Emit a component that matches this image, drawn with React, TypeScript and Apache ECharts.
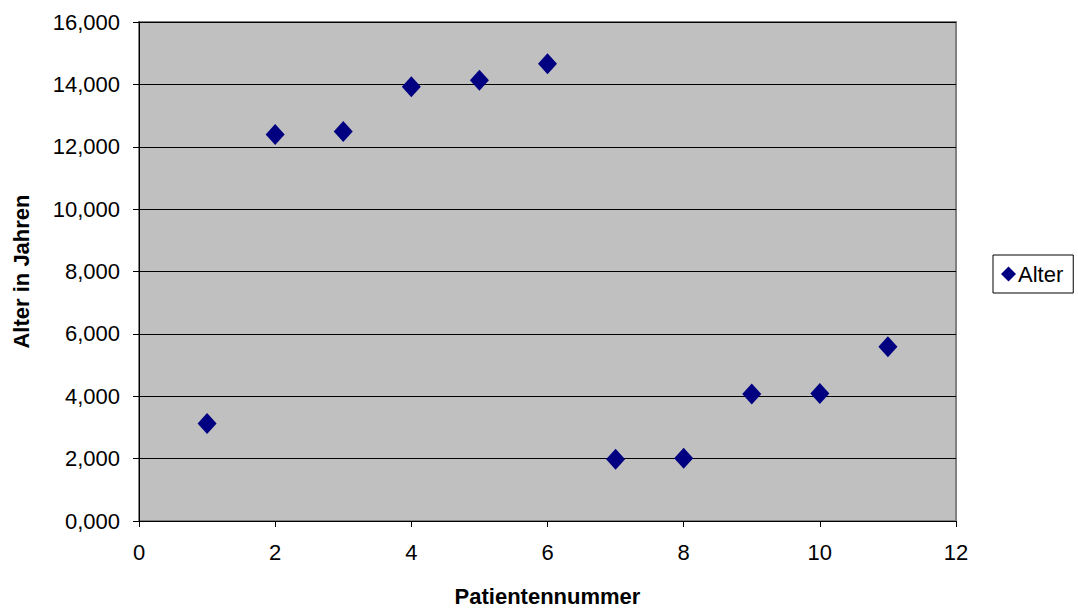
import React, { useEffect, useRef } from "react";
import * as echarts from "echarts";

const patientNumbers = [1, 2, 3, 4, 5, 6, 7, 8, 9, 10, 11];
const ages = [3.13, 12.39, 12.49, 13.92, 14.13, 14.66, 1.98, 2.01, 4.07, 4.09, 5.59];
const seriesName = "Alter";
const xAxisTitle = "Patientennummer";
const yAxisTitle = "Alter in Jahren";

const FONT = "Liberation Sans, Arial, sans-serif";

export default function App() {
  const ref = useRef<HTMLDivElement>(null);
  useEffect(() => {
    if (!ref.current) return;
    const chart = echarts.init(ref.current, null, { renderer: "svg" });
    chart.setOption({
      animation: false,
      backgroundColor: "#ffffff",
      textStyle: { fontFamily: FONT },
      grid: {
        left: 139,
        right: 122,
        top: 22,
        bottom: 88,
        show: true,
        backgroundColor: "#c0c0c0",
        borderColor: "#808080",
        borderWidth: 2,
      },
      legend: {
        left: 993,
        top: 255,
        backgroundColor: "#ffffff",
        borderColor: "#000000",
        borderWidth: 1,
        borderRadius: 0,
        padding: [8, 10, 8, 8],
        itemWidth: 15,
        itemHeight: 15,
        itemGap: 0,
        icon: "diamond",
        textStyle: { fontSize: 22, color: "#000", fontFamily: FONT, padding: [0, 0, 0, -3] },
        data: [seriesName],
      },
      xAxis: {
        type: "value",
        min: 0,
        max: 12,
        interval: 2,
        name: xAxisTitle,
        nameLocation: "middle",
        nameGap: 64,
        nameTextStyle: { fontSize: 22, fontWeight: "bold", color: "#000", fontFamily: FONT },
        axisLine: { show: true, onZero: false, lineStyle: { color: "#000", width: 1 } },
        axisTick: { show: true, inside: false, length: 6, lineStyle: { color: "#000" } },
        axisLabel: { fontSize: 22, color: "#000", margin: 20, fontFamily: FONT },
        splitLine: { show: false },
      },
      yAxis: {
        type: "value",
        min: 0,
        max: 16,
        interval: 2,
        name: yAxisTitle,
        nameLocation: "middle",
        nameGap: 107,
        nameRotate: 90,
        nameTextStyle: { fontSize: 22, fontWeight: "bold", color: "#000", fontFamily: FONT },
        axisLine: { show: true, onZero: false, lineStyle: { color: "#000", width: 1 } },
        axisTick: { show: true, inside: false, length: 6, lineStyle: { color: "#000" } },
        axisLabel: {
          fontSize: 22,
          color: "#000",
          margin: 19,
          fontFamily: FONT,
          formatter: (v: number) => v.toFixed(3).replace(".", ","),
        },
        splitLine: { show: true, lineStyle: { color: "#000", width: 1 } },
      },
      series: [
        {
          name: seriesName,
          type: "scatter",
          symbol: "diamond",
          symbolSize: [19, 21],
          itemStyle: { color: "#000080", opacity: 1 },
          data: patientNumbers.map((x, i) => [x, ages[i]]),
        },
      ],
    });
    return () => chart.dispose();
  }, []);
  return <div ref={ref} style={{ width: 1078, height: 612, position: "absolute", left: 0, top: 0 }} />;
}
